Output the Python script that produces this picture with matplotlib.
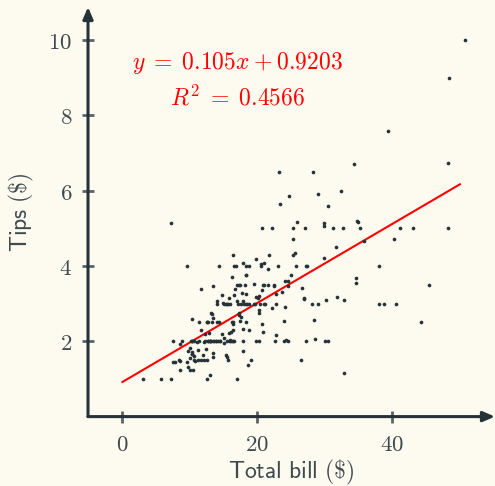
import numpy as np
import matplotlib
matplotlib.use("Agg")
from matplotlib import pyplot as plt

# tips dataset: total bill and tip
total_bill = [16.99, 10.34, 21.01, 23.68, 24.59, 25.29, 8.77, 26.88, 15.04, 14.78,
              10.27, 35.26, 15.42, 18.43, 14.83, 21.58, 10.33, 16.29, 16.97, 20.65,
              17.92, 20.29, 15.77, 39.42, 19.82, 17.81, 13.37, 12.69, 21.70, 19.65,
              9.55, 18.35, 15.06, 20.69, 17.78, 24.06, 16.31, 16.93, 18.69, 31.27,
              16.04, 17.46, 13.94, 9.68, 30.40, 18.29, 22.23, 32.40, 28.55, 18.04,
              12.54, 10.29, 34.81, 9.94, 25.56, 19.49, 38.01, 26.41, 11.24, 48.27,
              20.29, 13.81, 11.02, 18.29, 17.59, 20.08, 16.45, 3.07, 20.23, 15.01,
              12.02, 17.07, 26.86, 25.28, 14.73, 10.51, 17.92, 27.20, 22.76, 17.29,
              19.44, 16.66, 10.07, 32.68, 15.98, 34.83, 13.03, 18.28, 24.71, 21.16,
              28.97, 22.49, 5.75, 16.32, 22.75, 40.17, 27.28, 12.03, 21.01, 12.46,
              11.35, 15.38, 44.30, 22.42, 20.92, 15.36, 20.49, 25.21, 18.24, 14.31,
              14.00, 7.25, 38.07, 23.95, 25.71, 17.31, 29.93, 10.65, 12.43, 24.08,
              11.69, 13.42, 14.26, 15.95, 12.48, 29.80, 8.52, 14.52, 11.38, 22.82,
              19.08, 20.27, 11.17, 12.26, 18.26, 8.51, 10.33, 14.15, 16.00, 13.16,
              17.47, 34.30, 41.19, 27.05, 16.43, 8.35, 18.64, 11.87, 9.78, 7.51,
              14.07, 13.13, 17.26, 24.55, 19.77, 29.85, 48.17, 25.00, 13.39, 16.49,
              21.50, 12.66, 16.21, 13.81, 17.51, 24.52, 20.76, 31.71, 10.59, 10.63,
              50.81, 15.81, 7.25, 31.85, 16.82, 32.90, 17.89, 14.48, 9.60, 34.63,
              34.65, 23.33, 45.35, 23.17, 40.55, 20.69, 20.90, 30.46, 18.15, 23.10,
              15.69, 19.81, 28.44, 15.48, 16.58, 7.56, 10.34, 43.11, 13.00, 13.51,
              18.71, 12.74, 13.00, 16.40, 20.53, 16.47, 26.59, 38.73, 24.27, 12.76,
              30.06, 25.89, 48.33, 13.27, 28.17, 12.90, 28.15, 11.59, 7.74, 30.14,
              12.16, 13.42, 8.58, 15.98, 13.42, 16.27, 10.09, 20.45, 13.28, 22.12,
              24.01, 15.69, 11.61, 10.77, 15.53, 10.07, 12.60, 32.83, 35.83, 29.03,
              27.18, 22.67, 17.82, 18.78]
tip = [1.01, 1.66, 3.50, 3.31, 3.61, 4.71, 2.00, 3.12, 1.96, 3.23,
       1.71, 5.00, 1.57, 3.00, 3.02, 3.92, 1.67, 3.71, 3.50, 3.35,
       4.08, 2.75, 2.23, 7.58, 3.18, 2.34, 2.00, 2.00, 4.30, 3.00,
       1.45, 2.50, 3.00, 2.45, 3.27, 3.60, 2.00, 3.07, 2.31, 5.00,
       2.24, 2.54, 3.06, 1.32, 5.60, 3.00, 5.00, 6.00, 2.05, 3.00,
       2.50, 2.60, 5.20, 1.56, 4.34, 3.51, 3.00, 1.50, 1.76, 6.73,
       3.21, 2.00, 1.98, 3.76, 2.64, 3.15, 2.47, 1.00, 2.01, 2.09,
       1.97, 3.00, 3.14, 5.00, 2.20, 1.25, 3.08, 4.00, 3.00, 2.71,
       3.00, 3.40, 1.83, 5.00, 2.03, 5.17, 2.00, 4.00, 5.85, 3.00,
       3.00, 3.50, 1.00, 4.30, 3.25, 4.73, 4.00, 1.50, 3.00, 1.50,
       2.50, 3.00, 2.50, 3.48, 4.08, 1.64, 4.06, 4.29, 3.76, 4.00,
       3.00, 1.00, 4.00, 2.55, 4.00, 3.50, 5.07, 1.50, 1.80, 2.92,
       2.31, 1.68, 2.50, 2.00, 2.52, 4.20, 1.48, 2.00, 2.00, 2.18,
       1.50, 2.83, 1.50, 2.00, 3.25, 1.25, 2.00, 2.00, 2.00, 2.75,
       3.50, 6.70, 5.00, 5.00, 2.30, 1.50, 1.36, 1.63, 1.73, 2.00,
       2.50, 2.00, 2.74, 2.00, 2.00, 5.14, 5.00, 3.75, 2.61, 2.00,
       3.50, 2.50, 2.00, 2.00, 3.00, 3.48, 2.24, 4.50, 1.61, 2.00,
       10.00, 3.16, 5.15, 3.18, 4.00, 3.11, 2.00, 2.00, 4.00, 3.55,
       3.68, 5.65, 3.50, 6.50, 3.00, 5.00, 3.50, 2.00, 3.50, 4.00,
       1.50, 4.19, 2.56, 2.02, 4.00, 1.44, 2.00, 5.00, 2.00, 2.00,
       4.00, 2.01, 2.00, 2.50, 4.00, 3.23, 3.41, 3.00, 2.03, 2.23,
       2.00, 5.16, 9.00, 2.50, 6.50, 1.10, 3.00, 1.50, 1.44, 3.09,
       2.20, 3.48, 1.92, 3.00, 1.58, 2.50, 2.00, 3.00, 2.72, 2.88,
       2.00, 3.00, 3.39, 1.47, 3.00, 1.25, 1.00, 1.17, 4.67, 5.92,
       2.00, 2.00, 1.75, 3.00]
assert len(total_bill) == len(tip), (len(total_bill), len(tip))

slope = 0.105
intercept = 0.9203
r2 = 0.4566
fit_range = [0, 50]
x_ticks = [0, 20, 40]
y_ticks = [2, 4, 6, 8, 10]

bg = "#fdfbf0"
ink = "#253338"
txt = "#3f4a4e"

plt.rcParams["mathtext.fontset"] = "cm"

fig = plt.figure(figsize=(4.95, 4.86), dpi=100, facecolor=bg)
ax = fig.add_axes([0.1778, 0.1428, 0.8222, 0.8428], facecolor=bg)

x = np.array(total_bill)
y = np.array(tip)
ax.scatter(x, y, s=7, color=ink, linewidths=0, zorder=3)

xl = np.array(fit_range)
ax.plot(xl, slope * xl + intercept, color="red", lw=1.5, zorder=2)

ax.text(17.0, 9.39, r"$y\;=\;%.3fx\:+\:%.4f$" % (slope, intercept), color="red",
        fontsize=17, ha="center", va="center")
ax.text(17.0, 8.48, r"$R^2\;=\;%.4f$" % r2, color="red",
        fontsize=17, ha="center", va="center")

ax.set_xlim(-5.1, 55.2)
ax.set_ylim(0, 10.88)
ax.set_xticks(x_ticks)
ax.set_yticks(y_ticks)
ax.set_xticklabels([r"$%d$" % t for t in x_ticks])
ax.set_yticklabels([r"$%d$" % t for t in y_ticks])

for s in ax.spines:
    ax.spines[s].set_visible(False)

# axes drawn as arrows
arr = dict(arrowstyle="-|>,head_length=0.7,head_width=0.3", color=ink, lw=2.2,
           shrinkA=0, shrinkB=0)
ax.annotate("", xy=(1, 0), xytext=(0, 0), xycoords="axes fraction",
            textcoords="axes fraction", arrowprops=arr, annotation_clip=False)
ax.annotate("", xy=(0, 1), xytext=(0, 0), xycoords="axes fraction",
            textcoords="axes fraction", arrowprops=arr, annotation_clip=False)

ax.tick_params(direction="inout", length=9, width=2, color="#5a6468",
               labelcolor=txt, labelsize=16.5, pad=7)

ax.set_xlabel(r"$\mathsf{Total\ bill\ (\$)}$", fontsize=17, color=txt, labelpad=2)
ax.set_ylabel(r"$\mathsf{Tips\ (\$)}$", fontsize=17, color=txt, labelpad=9)

fig.savefig("out.png", dpi=100, facecolor=bg)
